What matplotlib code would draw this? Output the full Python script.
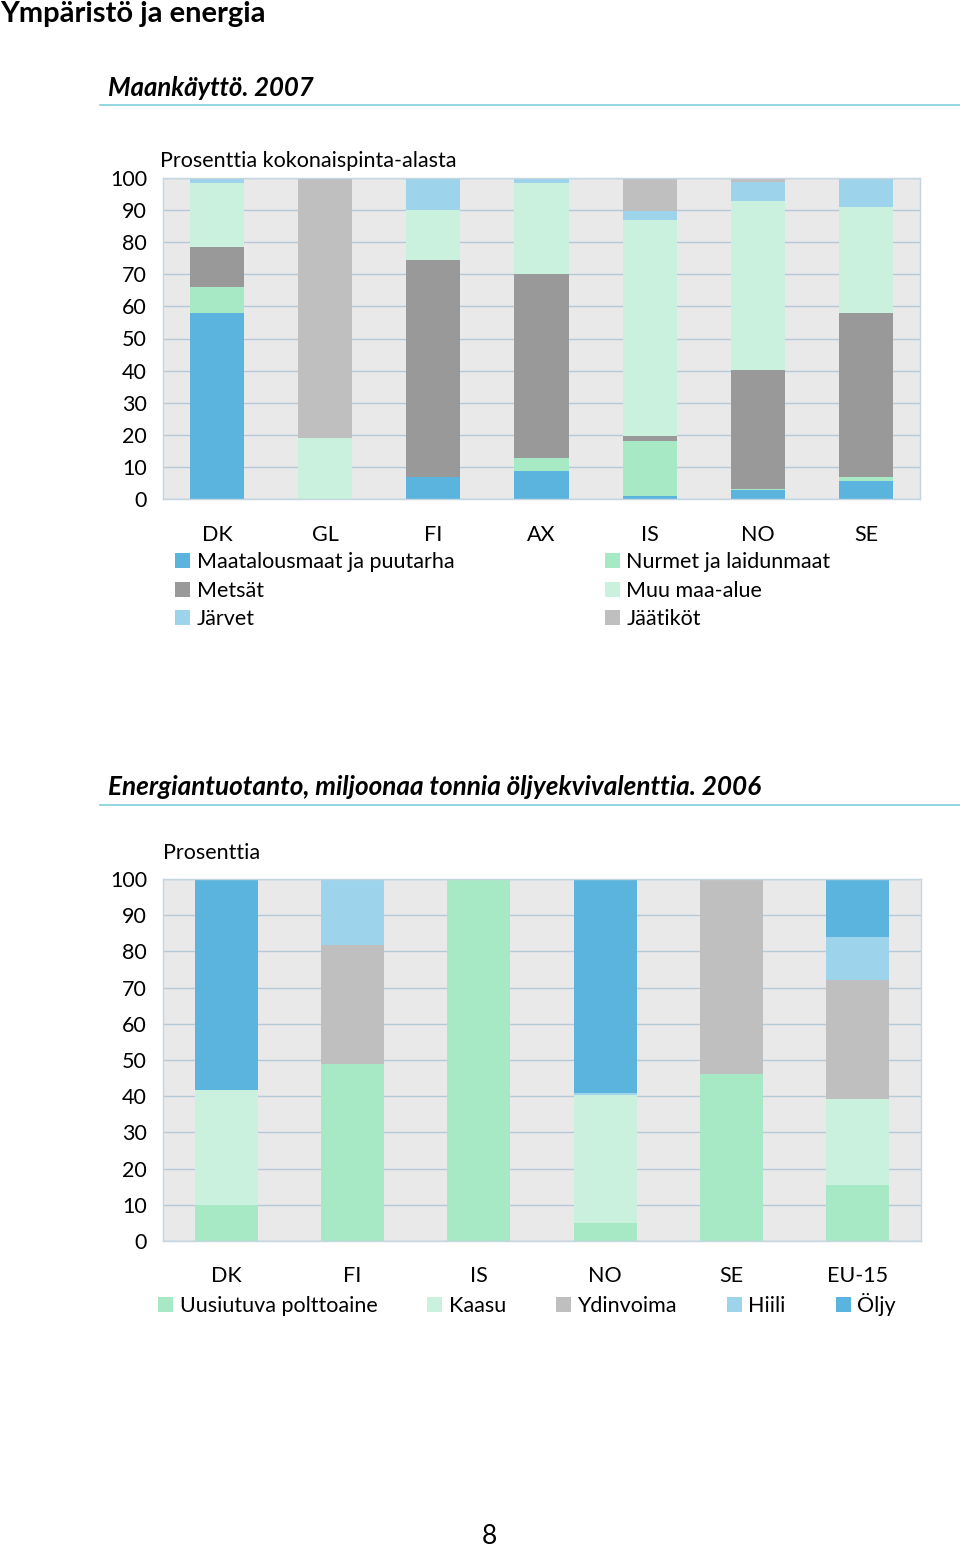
import matplotlib
matplotlib.use("Agg")
import matplotlib.pyplot as plt
import numpy as np

plt.rcParams['font.family'] = ['Lato', 'DejaVu Sans']

# Land use 2007, percent of total area
land_countries = ["DK", "GL", "FI", "AX", "IS", "NO", "SE"]
land_labels = ["Maatalousmaat ja puutarha", "Nurmet ja laidunmaat", "Metsät",
               "Muu maa-alue", "Järvet", "Jäätiköt"]
agri = [58, 0, 7, 8.8, 1.0, 2.9, 5.7]
pasture = [8, 0, 0, 4, 17.2, 0.3, 1.2]
forest = [12.5, 0, 67.5, 57.3, 1.5, 37, 51.1]
other = [20, 19, 15.4, 28.3, 67.1, 52.7, 33]
lakes = [1.5, 0, 10.1, 1.6, 3, 6, 9]
glaciers = [0, 81, 0, 0, 10.2, 1.1, 0]

# Energy production 2006, percent
energy_countries = ["DK", "FI", "IS", "NO", "SE", "EU-15"]
energy_labels = ["Uusiutuva polttoaine", "Kaasu", "Ydinvoima", "Hiili", "Öljy"]
renewable = [10, 48.8, 100, 5.1, 46, 15.5]
gas = [31.7, 0, 0, 35.2, 0, 23.6]
nuclear = [0, 33, 0, 0, 53.7, 33]
coal = [0, 18.2, 0, 0.6, 0.3, 12]
oil = [58.3, 0, 0, 59.1, 0, 15.9]

C_BLUE = "#5ab4de"
C_PASTURE = "#a7e9c5"
C_FOREST = "#999999"
C_OTHER = "#c9f1dd"
C_LAKE = "#9dd3eb"
C_ICE = "#bfbfbf"
BG = "#e9e9ea"
GRID = "#b5c9d6"
LINE = "#7fcfdc"

W, H = 960, 1553
FS = 15.5


def fx(x):
    return x / W


def fy(y):
    return 1 - y / H


def make_axes(fig, left, top, right, bottom):
    return fig.add_axes([fx(left), fy(bottom), (right - left) / W, (bottom - top) / H])


def style_axes(ax, n, xpad):
    ax.set_facecolor(BG)
    ax.set_xlim(-0.5, n - 0.5)
    ax.set_ylim(0, 100)
    ax.set_yticks(range(0, 101, 10))
    ax.yaxis.grid(True, color=GRID, lw=1)
    ax.set_axisbelow(True)
    ax.tick_params(axis="both", length=0, labelsize=FS)
    ax.tick_params(axis="y", pad=11.5)
    ax.tick_params(axis="x", pad=xpad)
    for s in ax.spines.values():
        s.set_color("#c4d6e0")
        s.set_linewidth(1)


def stacked(ax, series, colors, labels):
    x = np.arange(len(series[0]))
    bottom = np.zeros(len(x))
    bars = []
    for vals, c, lab in zip(series, colors, labels):
        b = ax.bar(x, vals, bottom=bottom, width=0.5, color=c, label=lab, zorder=2)
        bars.append(b)
        bottom += np.array(vals)
    return bars


fig = plt.figure(figsize=(W / 100, H / 100), dpi=100)

fig.text(fx(0), fy(14), "Ympäristö ja energia", fontsize=21, fontweight="bold",
         va="center", ha="left")

# ---- top chart ----
fig.text(fx(108), fy(88), "Maankäyttö. 2007", fontsize=18.5, fontweight="bold",
         fontstyle="italic", va="center", ha="left")
fig.add_artist(plt.Line2D([fx(100), fx(960)], [fy(105), fy(105)], color=LINE, lw=1.2))

ax1 = make_axes(fig, 163, 178, 920, 499)
style_axes(ax1, len(land_countries), 19)
ax1.set_xticks(range(len(land_countries)))
ax1.set_xticklabels(land_countries)
bars1 = stacked(ax1, [agri, pasture, forest, other, lakes, glaciers],
                [C_BLUE, C_PASTURE, C_FOREST, C_OTHER, C_LAKE, C_ICE], land_labels)
fig.text(fx(160), fy(161), "Prosenttia kokonaispinta-alasta", fontsize=FS,
         va="center", ha="left")

order = [0, 2, 4, 1, 3, 5]
fig.legend([bars1[i] for i in order], [land_labels[i] for i in order],
           loc="upper left", bbox_to_anchor=(fx(175), fy(552)), ncol=2,
           frameon=False, fontsize=FS, handlelength=0.7, handleheight=0.7,
           handletextpad=0.3, labelspacing=0.4, columnspacing=7.0,
           borderpad=0, borderaxespad=0)

# ---- bottom chart ----
fig.text(fx(108), fy(787), "Energiantuotanto, miljoonaa tonnia öljyekvivalenttia. 2006",
         fontsize=18.8, fontweight="bold", fontstyle="italic", va="center", ha="left")
fig.add_artist(plt.Line2D([fx(100), fx(960)], [fy(805), fy(805)], color=LINE, lw=1.2))

ax2 = make_axes(fig, 163, 879, 921, 1241)
style_axes(ax2, len(energy_countries), 18)
ax2.set_xticks(range(len(energy_countries)))
ax2.set_xticklabels(energy_countries)
bars2 = stacked(ax2, [renewable, gas, nuclear, coal, oil],
                [C_PASTURE, C_OTHER, C_ICE, C_LAKE, C_BLUE], energy_labels)
fig.text(fx(163), fy(853), "Prosenttia", fontsize=FS, va="center", ha="left")

fig.legend(bars2, energy_labels, loc="upper left", bbox_to_anchor=(fx(158), fy(1293)),
           ncol=5, frameon=False, fontsize=FS, handlelength=0.7, handleheight=0.7,
           handletextpad=0.3, columnspacing=2.32, borderpad=0, borderaxespad=0)

fig.text(fx(489), fy(1537), "8", fontsize=19, va="center", ha="center")

fig.savefig("out.png", dpi=100)
